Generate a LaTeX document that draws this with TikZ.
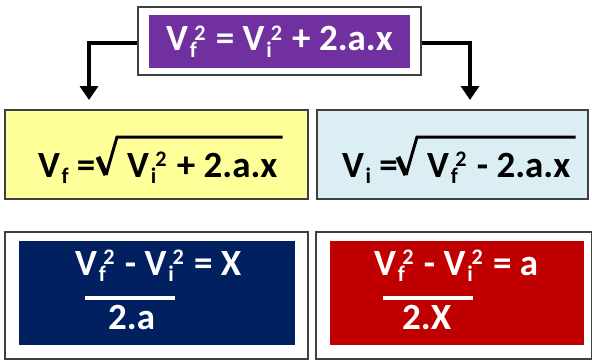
\documentclass[tikz,border=0pt]{standalone}
\usepackage{fontspec}
\setmainfont{Carlito}
\usetikzlibrary{arrows.meta,positioning,calc}

\definecolor{eqpurple}{HTML}{7030A0}
\definecolor{eqyellow}{HTML}{FFFF99}
\definecolor{eqblue}{HTML}{DAEEF3}
\definecolor{eqnavy}{HTML}{002060}
\definecolor{eqred}{HTML}{C00000}
\definecolor{edgegray}{HTML}{404040}

% small script text, relative to the current size
\newcommand\sm[1]{{\fontsize{0.6em}{0.6em}\selectfont #1}}
% V with subscript and superscript
\newcommand\vsq[2]{V\kern0.05em\rlap{\raisebox{-0.17em}{\sm{#1}}}\kern0.12em\raisebox{0.28em}{\sm{#2}}\kern0.05em\relax}
\newcommand\vsb[1]{V\kern0.04em\raisebox{-0.17em}{\sm{#1}}}

\begin{document}
\begin{tikzpicture}[x=1pt, y=-1pt,
    frame/.style={draw=edgegray, line width=1.2pt, fill=white, inner sep=0pt},
    panel/.style={draw=edgegray, line width=1.2pt, inner sep=0pt},
    txt/.style={inner sep=0pt, anchor=base west, font=\bfseries\fontsize{37}{40}\selectfont},
    wtxt/.style={txt, text=white},
    conn/.style={line width=4.5pt, -{Triangle[width=18pt, length=14pt]}},
    radical/.style={line width=3pt, line join=miter, line cap=butt},
    bar/.style={line width=4pt, white}
]
\useasboundingbox (0,0) rectangle (592,360);

% top equation
\node[frame, minimum width=283pt, minimum height=68pt] (top) at (279.5,41) {};
\node[fill=eqpurple, minimum width=261pt, minimum height=53pt, inner sep=0pt,
      text=white, font=\bfseries\fontsize{37}{40}\selectfont] (topeq) at (279.5,41.5)
      {\vsq{f}{2} = \vsq{i}{2} + 2.a.x};

% middle row
\node[panel, fill=eqyellow, minimum width=303pt, minimum height=89pt] (vf) at (156.5,154.5) {};
\node[panel, fill=eqblue, minimum width=271pt, minimum height=89pt] (vi) at (452.5,154.5) {};

\node[txt] (vfl) at (38,177) {\vsb{f} =};
\node[txt] (vfr) at (127,177) {\vsq{i}{2} + 2.a.x};
\draw[line width=5pt] ($(vfr.base west)+(-29,-20)$) -- ($(vfr.base west)+(-21,-2)$);
\draw[radical] ($(vfr.base west)+(-21,-2)$) -- ++(11,-38) -- ($(vfr.base east)+(5,-40)$);

\node[txt] (vil) at (342,177) {\vsb{i} =};
\node[txt] (vir) at (427,177) {\vsq{f}{2} - 2.a.x};
\draw[line width=5pt] ($(vir.base west)+(-29,-20)$) -- ($(vir.base west)+(-21,-2)$);
\draw[radical] ($(vir.base west)+(-21,-2)$) -- ++(11,-38) -- ($(vir.base east)+(5,-40)$);

% arrows
\coordinate (ltip) at (89,100);
\coordinate (rtip) at (470,100);
\draw[conn] ([yshift=-2pt]top.west) -| (ltip);
\draw[conn] ([yshift=-2pt]top.east) -| (rtip);

% bottom row
\node[frame, minimum width=303pt, minimum height=127pt] (xout) at (156.5,295.5) {};
\node[frame, minimum width=276pt, minimum height=127pt] (aout) at (454,295.5) {};
\node[fill=eqnavy, minimum width=276pt, minimum height=104pt, inner sep=0pt] (xin) at (157,293) {};
\node[fill=eqred, minimum width=254pt, minimum height=104pt, inner sep=0pt] (ain) at (457,293) {};

\node[wtxt] (xnum) at (75,275) {\vsq{f}{2} - \vsq{i}{2} = X};
\node[wtxt] (xden) at (108,329) {2.a};
\draw[bar] (85,298) -- (175,298);

\node[wtxt] (anum) at (374,275) {\vsq{f}{2} - \vsq{i}{2} = a};
\node[wtxt] (aden) at (402,329) {2.X};
\draw[bar] (383,298) -- (473,298);
\end{tikzpicture}
\end{document}
